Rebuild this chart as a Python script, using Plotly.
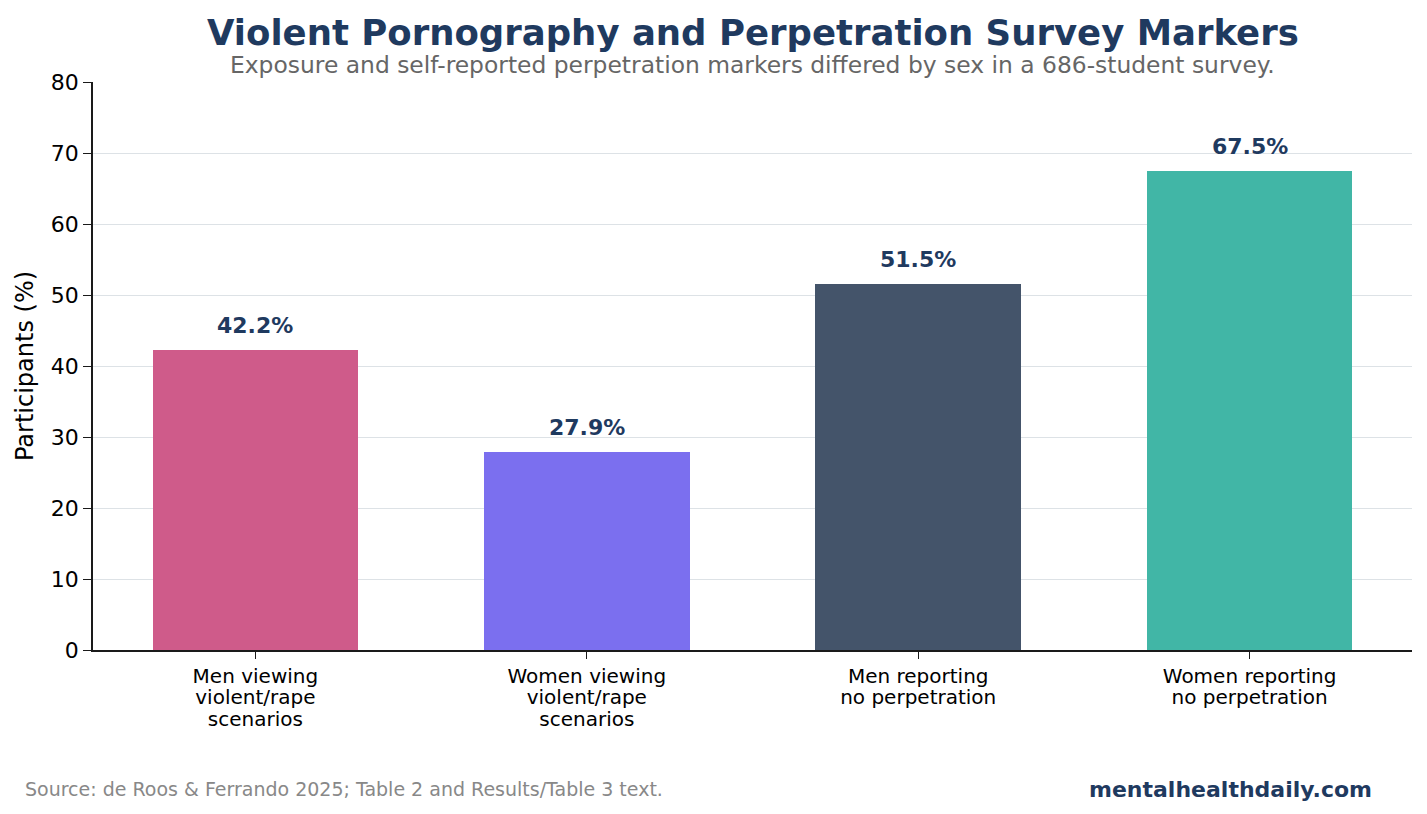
import plotly.graph_objects as go

categories = ["Men viewing<br>violent/rape<br>scenarios", "Women viewing<br>violent/rape<br>scenarios",
              "Men reporting<br>no perpetration", "Women reporting<br>no perpetration"]
values = [42.2, 27.9, 51.5, 67.5]
colors = ["#cf5b8a", "#7b6fef", "#44546a", "#41b6a6"]
labels = [f"{v:.1f}%" for v in values]

W, H = 1427, 814
L, R, T, B = 93, 15, 82, 164
FONT = "DejaVu Sans"
NAVY = "#1f3a5f"

# glyphs drawn at 20px, line spacing taken from the (smaller) base tick font size
tick_text = ["<br>".join(f"<span style='font-size:20px'>{ln}</span>" for ln in c.split("<br>"))
             for c in categories]

fig = go.Figure(go.Bar(
    x=list(range(len(categories))), y=values, marker=dict(color=colors, line=dict(width=0)),
    width=0.62, hoverinfo="skip"))

for i, (v, t) in enumerate(zip(values, labels)):
    fig.add_annotation(x=i, y=v, text=f"<b>{t}</b>", showarrow=False, yanchor="bottom",
                       yshift=10, font=dict(family=FONT, size=22, color=NAVY))

fig.add_annotation(xref="paper", yref="paper", x=0.5, y=1, yanchor="middle", yshift=50,
                   text="<b>Violent Pornography and Perpetration Survey Markers</b>",
                   showarrow=False, font=dict(family=FONT, size=35.5, color=NAVY))
fig.add_annotation(xref="paper", yref="paper", x=0.5, y=1, yanchor="middle", yshift=17,
                   text="Exposure and self-reported perpetration markers differed by sex in a 686-student survey.",
                   showarrow=False, font=dict(family=FONT, size=23.4, color="#666666"))
fig.add_annotation(xref="paper", yref="paper", x=(23 - L) / (W - L - R), y=(H - 789 - B) / (H - T - B),
                   xanchor="left", yanchor="middle",
                   text="Source: de Roos &amp; Ferrando 2025; Table 2 and Results/Table 3 text.",
                   showarrow=False, font=dict(family=FONT, size=19, color="#888888"))
fig.add_annotation(xref="paper", yref="paper", x=(1374 - L) / (W - L - R), y=(H - 789 - B) / (H - T - B),
                   xanchor="right", yanchor="middle", text="<b>mentalhealthdaily.com</b>",
                   showarrow=False, font=dict(family=FONT, size=22, color=NAVY))

fig.update_layout(
    width=W, height=H, margin=dict(l=L, r=R, t=T, b=B, autoexpand=False),
    paper_bgcolor="white", plot_bgcolor="white", showlegend=False, bargap=0,
    font=dict(family=FONT, color="black"),
    xaxis=dict(range=[-0.49, 3.49], tickmode="array", tickvals=list(range(len(categories))),
               ticktext=tick_text, tickfont=dict(family=FONT, size=16.5, color="black"),
               ticklabelstandoff=4,
               showgrid=False, zeroline=False, showline=True,
               linecolor="#1a1a1a", linewidth=1.6, ticks="outside", ticklen=7, tickcolor="#1a1a1a",
               tickwidth=1.4),
    yaxis=dict(range=[0, 80], tickmode="array", tickvals=list(range(0, 81, 10)),
               showgrid=True, gridcolor="#dde2e6", gridwidth=1.4, zeroline=False, showline=True,
               linecolor="#1a1a1a", linewidth=1.6, ticks="outside", ticklen=8, tickcolor="#1a1a1a",
               tickwidth=1.4, tickfont=dict(family=FONT, size=22, color="black"),
               title=dict(text="Participants (%)", font=dict(family=FONT, size=24, color="black"),
                          standoff=10)),
)

fig.write_html("out.html")
